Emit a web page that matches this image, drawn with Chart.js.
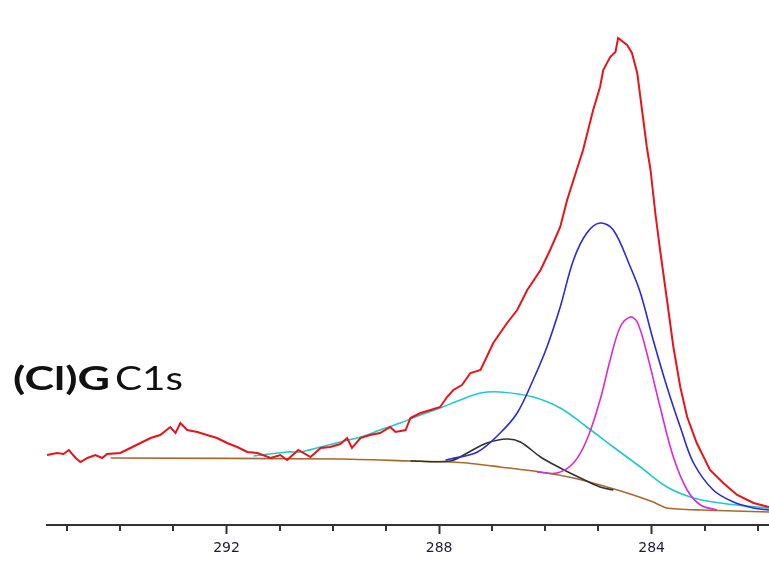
<!DOCTYPE html>
<html>
<head>
<meta charset="utf-8">
<script src="https://cdn.jsdelivr.net/npm/chart.js@4/dist/chart.umd.min.js"></script>
<style>
  html, body { margin: 0; padding: 0; background: #fff; }
  #wrap { width: 769px; height: 567px; }
</style>
</head>
<body>
<div id="wrap"><canvas id="xpsChart" width="769" height="567"></canvas></div>
<script>
// Binding energy (eV) and intensity (a.u.)
const rawE = [295.38, 295.19, 295.07, 294.97, 294.84, 294.75, 294.62, 294.47, 294.34, 294.25, 294.00, 293.81, 293.62, 293.43, 293.25, 293.06, 292.96, 292.87, 292.74, 292.55, 292.37, 292.18, 291.99, 291.80, 291.61, 291.42, 291.17, 290.99, 290.86, 290.65, 290.42, 290.23, 290.05, 289.86, 289.73, 289.64, 289.48, 289.30, 289.11, 288.92, 288.82, 288.63, 288.54, 288.35, 288.16, 287.98, 287.85, 287.73, 287.57, 287.41, 287.22, 286.98, 286.72, 286.53, 286.34, 286.09, 285.91, 285.72, 285.59, 285.47, 285.29, 285.10, 284.97, 284.91, 284.78, 284.68, 284.63, 284.46, 284.37, 284.27, 284.18, 284.09, 284.02, 283.93, 283.84, 283.71, 283.59, 283.46, 283.33, 283.15, 282.90, 282.65, 282.39, 282.08, 281.79];
const rawI = [70, 72, 71, 75, 67, 63, 67, 70, 67, 71, 72, 77, 82, 87, 90, 98, 92, 102, 95, 93, 90, 87, 82, 78, 73, 72, 67, 70, 65, 75, 68, 77, 78, 81, 87, 77, 87, 90, 92, 98, 93, 95, 107, 112, 115, 118, 128, 135, 140, 152, 155, 182, 202, 215, 235, 255, 275, 298, 325, 345, 375, 415, 438, 455, 468, 473, 487, 480, 472, 452, 415, 378, 355, 312, 275, 225, 178, 138, 108, 82, 55, 42, 30, 22, 18];

const bgE = [294.18, 289.86, 288.54, 287.79, 287.47, 286.85, 286.09, 285.47, 284.97, 284.46, 283.97, 283.71, 283.08, 281.79];
const bgI = [67, 66, 64, 63, 62, 58, 53, 47, 40, 32, 23, 17, 15, 13];

const blueE = [287.88, 287.79, 287.28, 286.85, 286.53, 286.23, 285.97, 285.72, 285.47, 285.22, 284.97, 284.72, 284.40, 284.21, 283.97, 283.71, 283.46, 283.21, 282.84, 282.46, 282.08, 281.79];
const blueI = [65, 66, 73, 92, 112, 145, 178, 218, 265, 292, 302, 295, 258, 232, 185, 138, 98, 62, 35, 23, 17, 15];

const magE = [286.16, 285.78, 285.47, 285.22, 284.97, 284.78, 284.59, 284.40, 284.27, 284.09, 283.84, 283.59, 283.33, 283.08, 282.77];
const magI = [53, 52, 62, 85, 125, 165, 198, 208, 203, 172, 118, 68, 35, 20, 15];

const cyanE = [291.49, 290.86, 290.61, 290.23, 289.86, 289.48, 289.11, 288.73, 288.35, 287.98, 287.60, 287.22, 286.85, 286.23, 285.72, 285.22, 284.72, 284.21, 283.71, 283.21, 282.71, 282.21, 281.79];
const cyanI = [69, 73, 73, 78, 83, 88, 95, 102, 110, 117, 125, 132, 133, 128, 117, 98, 78, 58, 38, 27, 22, 19, 17];

const blackE = [288.54, 287.79, 287.47, 287.10, 286.72, 286.47, 286.09, 285.72, 285.34, 284.97, 284.72];
const blackI = [64, 64, 72, 82, 86, 83, 68, 57, 47, 38, 35];

const xMin = 281.79;
const xMax = 295.38;
const labelEvery = 4; // 284, 288, 292 are labelled

function pts(xs, ys) {
    return xs.map((x, i) => ({ x: x, y: ys[i] }));
}

function line(label, xs, ys, color, tension, width) {
    return {
        label: label,
        data: pts(xs, ys),
        borderColor: color,
        borderWidth: width || 1.6,
        pointRadius: 0,
        tension: tension,
        fill: false
    };
}

// minor ticks (shorter) drawn through the x scale
const minorTicks = {
    id: 'minorTicks',
    afterDraw(chart) {
        const sc = chart.scales.x;
        const c = chart.ctx;
        c.save();
        c.strokeStyle = '#333';
        c.lineWidth = 2;
        sc.ticks.forEach(t => {
            if (t.value % labelEvery === 0) return;
            const px = Math.round(sc.getPixelForValue(t.value));
            c.beginPath();
            c.moveTo(px, sc.top);
            c.lineTo(px, sc.top + 6);
            c.stroke();
        });
        c.restore();
    }
};

// "(Cl)G C1s" label inside the plot (the original figure is stretched sideways)
const sampleLabel = {
    id: 'sampleLabel',
    afterDraw(chart) {
        const c = chart.ctx;
        c.save();
        c.fillStyle = '#111';
        c.textBaseline = 'alphabetic';
        const drawFit = (txt, font, x, w) => {
            c.font = font;
            const m = c.measureText(txt).width;
            c.save();
            c.translate(x, 390);
            c.scale(w / m, 1);
            c.fillText(txt, 0, 0);
            c.restore();
        };
        drawFit('(Cl)G', 'bold 33px Lato', 13, 97);
        drawFit('C1s', '33px Lato', 115, 68);
        c.restore();
    }
};

function build() {
    const ctx = document.getElementById('xpsChart').getContext('2d');
    new Chart(ctx, {
        type: 'line',
        data: {
            datasets: [
                line('C1s raw', rawE, rawI, '#e8141c', 0, 2),
                line('C-C sp2', blueE, blueI, '#2a2ad8', 0.35),
                line('C-C sp3', magE, magI, '#d82ad8', 0.35),
                line('C-O', blackE, blackI, '#333333', 0.35),
                line('broad', cyanE, cyanI, '#22c8cc', 0.35),
                line('background', bgE, bgI, '#a8692e', 0.2)
            ]
        },
        options: {
            responsive: false,
            animation: false,
            layout: {
                padding: { left: 47, right: 0, top: 10, bottom: 0 }
            },
            plugins: {
                legend: { display: false },
                tooltip: { enabled: false }
            },
            scales: {
                x: {
                    type: 'linear',
                    reverse: true,
                    min: xMin,
                    max: xMax,
                    afterFit(scale) { scale.height = 42; },
                    border: { display: true, color: '#333', width: 2 },
                    grid: {
                        drawOnChartArea: false,
                        drawTicks: true,
                        tickLength: 9,
                        tickWidth: 2,
                        tickColor: (c) => (c.tick && c.tick.value % labelEvery === 0) ? '#333' : 'rgba(0,0,0,0)'
                    },
                    ticks: {
                        stepSize: 1,
                        includeBounds: false,
                        autoSkip: false,
                        maxRotation: 0,
                        padding: 6,
                        color: '#1c1c3a',
                        font: { family: 'DejaVu Sans', size: 14 },
                        callback: (v) => (v % labelEvery === 0) ? String(v) : ''
                    }
                },
                y: {
                    display: false,
                    min: 0,
                    max: 515
                }
            }
        },
        plugins: [minorTicks, sampleLabel]
    });
}

Promise.all([
    document.fonts.load('bold 33px Lato'),
    document.fonts.load('33px Lato')
]).then(build, build);
</script>
</body>
</html>
